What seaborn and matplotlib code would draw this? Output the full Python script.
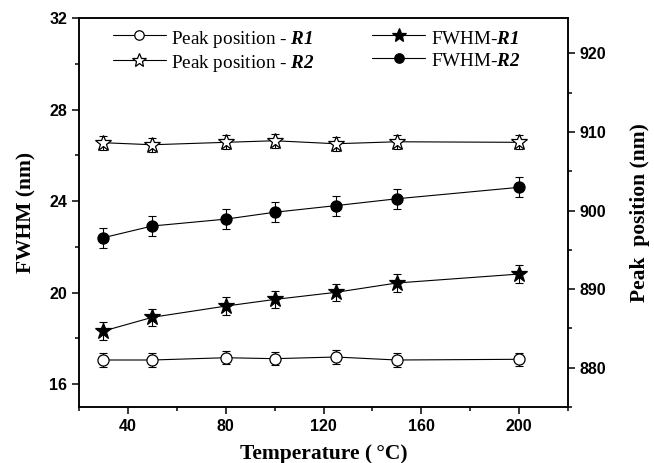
import matplotlib
matplotlib.use("Agg")
import matplotlib.pyplot as plt
from matplotlib.ticker import MultipleLocator
import seaborn as sns

# data
temperature = [30, 50, 80, 100, 125, 150, 200]
fwhm_r1 = [18.32, 18.92, 19.41, 19.70, 20.01, 20.42, 20.81]
fwhm_r2 = [22.40, 22.91, 23.21, 23.51, 23.80, 24.10, 24.60]
fwhm_r1_err = [0.38, 0.38, 0.38, 0.38, 0.38, 0.38, 0.38]
fwhm_r2_err = [0.44, 0.44, 0.44, 0.44, 0.44, 0.44, 0.44]
peak_r1 = [880.98, 880.98, 881.27, 881.15, 881.36, 880.98, 881.07]
peak_r2 = [908.63, 908.37, 908.68, 908.88, 908.50, 908.75, 908.68]
peak_r1_err = [0.85, 0.85, 0.85, 0.85, 0.85, 0.85, 0.85]
peak_r2_err = [0.9, 0.9, 0.9, 0.9, 0.9, 0.9, 0.9]

sns.set_style("ticks")
plt.rcParams['font.family'] = ['Liberation Sans', 'DejaVu Sans']
plt.rcParams['mathtext.fontset'] = 'custom'
plt.rcParams['mathtext.rm'] = 'Liberation Serif'
plt.rcParams['mathtext.it'] = 'Liberation Serif:italic'
plt.rcParams['mathtext.bf'] = 'Liberation Serif:bold'
plt.rcParams['mathtext.bfit'] = 'Liberation Serif:italic:bold'
for key in ('text.color', 'axes.labelcolor', 'xtick.color', 'ytick.color', 'axes.edgecolor'):
    plt.rcParams[key] = 'black'

fig = plt.figure(figsize=(6.54, 4.63), dpi=100)
ax = fig.add_axes([79 / 654, 1 - 407 / 463, (568 - 79) / 654, (407 - 18) / 463])
ax2 = ax.twinx()

lw = 0.8


def draw(axis, y, err, marker, ms, face, label):
    axis.errorbar(temperature, y, yerr=err, fmt='none', ecolor='black',
                  elinewidth=lw, capsize=3, capthick=lw, zorder=2)
    sns.lineplot(x=temperature, y=y, ax=axis, color='black', linewidth=lw,
                 marker=marker, markersize=ms, markerfacecolor=face,
                 markeredgecolor='black', markeredgewidth=0.9, label=label, zorder=3)


draw(ax, fwhm_r1, fwhm_r1_err, '*', 12, 'black', 'FWHM-$\\mathbfit{R1}$')
draw(ax, fwhm_r2, fwhm_r2_err, 'o', 8, 'black', 'FWHM-$\\mathbfit{R2}$')
draw(ax2, peak_r1, peak_r1_err, 'o', 8, 'white', 'Peak position - $\\mathbfit{R1}$')
draw(ax2, peak_r2, peak_r2_err, '*', 12, 'white', 'Peak position - $\\mathbfit{R2}$')

ax.set_xlim(20, 220)
ax.set_ylim(15, 32)
ax2.set_ylim(875, 924.5)

ax.xaxis.set_major_locator(MultipleLocator(40))
ax.xaxis.set_minor_locator(MultipleLocator(20))
ax.yaxis.set_major_locator(MultipleLocator(4))
ax.yaxis.set_minor_locator(MultipleLocator(2))
ax2.yaxis.set_major_locator(MultipleLocator(10))
ax2.yaxis.set_minor_locator(MultipleLocator(5))

for a in (ax, ax2):
    a.tick_params(which='major', direction='out', length=5, width=1.1,
                  labelsize=11.5, top=False, colors='black')
    a.tick_params(which='minor', direction='out', length=3, width=1.1, top=False,
                  colors='black')
    for s in a.spines.values():
        s.set_linewidth(1.1)
        s.set_color('black')
        s.set_visible(True)
    for t in a.get_xticklabels() + a.get_yticklabels():
        t.set_fontweight('bold')
ax.tick_params(axis='y', which='both', right=False)
ax2.tick_params(axis='y', which='both', left=False)

label_font = dict(family='Liberation Serif', fontweight='bold', fontsize=15.5,
                  color='black')
ax.set_xlabel('Temperature (\u2009\u00b0C)', labelpad=7, **label_font)
ax.set_ylabel('FWHM (nm)', labelpad=9, **label_font)
ax2.set_ylabel('Peak  position (nm)', labelpad=17, **label_font)

if ax.get_legend() is not None:
    ax.get_legend().remove()
if ax2.get_legend() is not None:
    ax2.get_legend().remove()

h1, l1 = ax.get_legend_handles_labels()
h2, l2 = ax2.get_legend_handles_labels()
handles = h2 + h1
labels = l2 + l1
ax2.legend(handles, labels, loc='upper left', ncol=2, frameon=False,
           bbox_to_anchor=((113 - 79) / 489, 1 - 9 / 389), borderpad=0,
           borderaxespad=0, handlelength=2.75, handleheight=1.25, handletextpad=0.3,
           columnspacing=3.0, labelspacing=0.1, markerscale=0.85,
           prop={'family': 'Liberation Serif', 'size': 13.8})

fig.savefig('out.png', dpi=100)
